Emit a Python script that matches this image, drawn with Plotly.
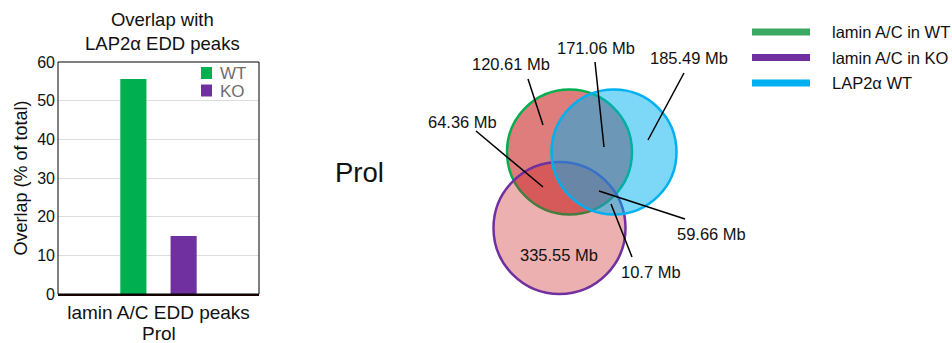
import plotly.graph_objects as go

W, H = 952, 343

# ---- bar chart data ----
group_label = "lamin A/C EDD peaks"
group_sublabel = "Prol"
conditions = ["WT", "KO"]
overlap_pct = [55.6, 15.0]
bar_colors = ["#00B050", "#7030A0"]

# ---- Venn region sizes (Mb) ----
region_names = [
    "WT only", "WT & LAP2a", "LAP2a only", "WT & KO",
    "all three", "KO & LAP2a", "KO only",
]
region_mb = [120.61, 171.06, 185.49, 64.36, 59.66, 10.7, 335.55]

set_names = ["lamin A/C in WT", "lamin A/C in KO", "LAP2\u03b1 WT"]
set_line_colors = ["#00B050", "#7030A0", "#00B0F0"]
set_legend_colors = ["#3AA860", "#7030A0", "#00B0F0"]
set_fill_colors = ["rgba(200,30,30,0.58)", "rgba(200,30,30,0.35)", "rgba(0,176,240,0.51)"]

FONT = "Liberation Sans, Arial, sans-serif"

def px_x(x):
    return x / W

def px_y(y):
    return 1 - y / H

fig = go.Figure()

for name, val, col in zip(conditions, overlap_pct, bar_colors):
    fig.add_trace(go.Bar(
        x=[group_label], y=[val], name=name, marker_color=col,
        marker_line_width=0, showlegend=False, xaxis="x", yaxis="y",
    ))

# invisible pixel-space axes used for the Venn diagram
fig.add_trace(go.Scatter(x=[0, W], y=[0, H], mode="markers",
                         marker=dict(opacity=0), showlegend=False,
                         hoverinfo="skip", xaxis="x2", yaxis="y2"))

shapes = []
annotations = []

# frame around the bar plot
shapes.append(dict(type="rect", xref="x domain", yref="y domain",
                   x0=0, x1=1, y0=0, y1=1, line=dict(color="#000", width=1),
                   layer="above"))

# second line under the category label
annotations.append(dict(xref="paper", yref="paper", x=px_x(158.5), y=px_y(333),
                        text=group_sublabel, showarrow=False,
                        xanchor="center", yanchor="middle",
                        font=dict(size=19, color="#111", family=FONT)))

# bar legend (squares + grey text)
for i, (name, col) in enumerate(zip(conditions, bar_colors)):
    yc = 73 + i * 17.5
    shapes.append(dict(type="rect", xref="x2", yref="y2",
                       x0=201, x1=212, y0=yc - 6, y1=yc + 6,
                       fillcolor=col, line=dict(width=0)))
    annotations.append(dict(xref="x2", yref="y2", x=218, y=yc, text=name,
                            showarrow=False, xanchor="left", yanchor="middle",
                            height=16, valign="middle",
                            font=dict(size=17, color="#6E6E6E", family=FONT)))

# bar chart title
annotations.append(dict(xref="paper", yref="paper", x=px_x(162), y=px_y(31.5),
                        text="Overlap with<br>LAP2\u03b1 EDD peaks", showarrow=False,
                        xanchor="center", yanchor="middle",
                        font=dict(size=18.5, color="#111", family=FONT)))

# side label
annotations.append(dict(xref="x2", yref="y2", x=359.5, y=172, text="Prol",
                        showarrow=False, xanchor="center", yanchor="middle",
                        font=dict(size=27.5, color="#111", family=FONT)))

# Venn circles: (cx, cy, r) in pixel space, drawn WT, KO, LAP2a
circles = [(569.5, 152, 62.5), (559.5, 228, 66), (614, 152, 62.5)]
for (cx, cy, r), lc, fc in zip(circles, set_line_colors, set_fill_colors):
    shapes.append(dict(type="circle", xref="x2", yref="y2",
                       x0=cx - r, x1=cx + r, y0=cy - r, y1=cy + r,
                       fillcolor=fc, line=dict(color=lc, width=2.5),
                       layer="above"))

# region labels: text position and leader line (from, to)
label_pos = {
    "WT only": ((511, 64), (528, 79, 543, 125)),
    "WT & LAP2a": ((596, 48), (595, 62, 604, 147)),
    "LAP2a only": ((689, 58), (684, 73, 648, 140)),
    "WT & KO": ((462, 122), (476, 131, 543, 187)),
    "all three": ((711, 234), (599, 191, 685, 219)),
    "KO & LAP2a": ((651, 272), (611, 204, 632, 257)),
    "KO only": ((559, 255), None),
}
for name, val in zip(region_names, region_mb):
    (tx, ty), seg = label_pos[name]
    if seg is not None:
        x0, y0, x1, y1 = seg
        shapes.append(dict(type="line", xref="x2", yref="y2",
                           x0=x0, y0=y0, x1=x1, y1=y1,
                           line=dict(color="#000", width=1.5), layer="above"))
    annotations.append(dict(xref="x2", yref="y2", x=tx, y=ty, text=f"{val} Mb",
                            showarrow=False, xanchor="center", yanchor="middle",
                            font=dict(size=16.5, color="#111", family=FONT)))

# Venn legend
for i, (name, col) in enumerate(zip(set_names, set_legend_colors)):
    yc = 32 + i * 25.5
    shapes.append(dict(type="line", xref="x2", yref="y2",
                       x0=752, x1=810, y0=yc, y1=yc,
                       line=dict(color=col, width=7)))
    annotations.append(dict(xref="x2", yref="y2", x=830, y=yc, text=name,
                            showarrow=False, xanchor="left", yanchor="middle",
                            font=dict(size=16.5, color="#111", family=FONT)))

fig.update_layout(
    width=W, height=H,
    margin=dict(l=0, r=0, t=0, b=0, autoexpand=False),
    paper_bgcolor="white", plot_bgcolor="rgba(0,0,0,0)",
    barmode="group", bargap=0.5, bargroupgap=0.48,
    font=dict(family=FONT, color="#111"),
    xaxis=dict(domain=[px_x(58), px_x(259)], anchor="y", automargin=False,
               showline=True, linecolor="#1A0000", linewidth=2,
               ticks="", tickfont=dict(size=19, color="#111"),
               showgrid=False, fixedrange=True),
    yaxis=dict(domain=[px_y(294), px_y(62)], anchor="x", automargin=False,
               range=[0, 60], tickvals=[0, 10, 20, 30, 40, 50, 60],
               showgrid=True, gridcolor="#DDDDDD", gridwidth=1,
               zeroline=False, showline=False, ticks="",
               ticklabelstandoff=2,
               tickfont=dict(size=16, color="#111"),
               title=dict(text="Overlap (% of total)",
                          font=dict(size=18, color="#111"), standoff=4),
               fixedrange=True),
    xaxis2=dict(domain=[0, 1], anchor="y2", range=[0, W], visible=False,
                fixedrange=True),
    yaxis2=dict(domain=[0, 1], anchor="x2", range=[H, 0], visible=False,
                fixedrange=True),
    shapes=shapes,
    annotations=annotations,
    showlegend=False,
)

fig.write_html("out.html")
